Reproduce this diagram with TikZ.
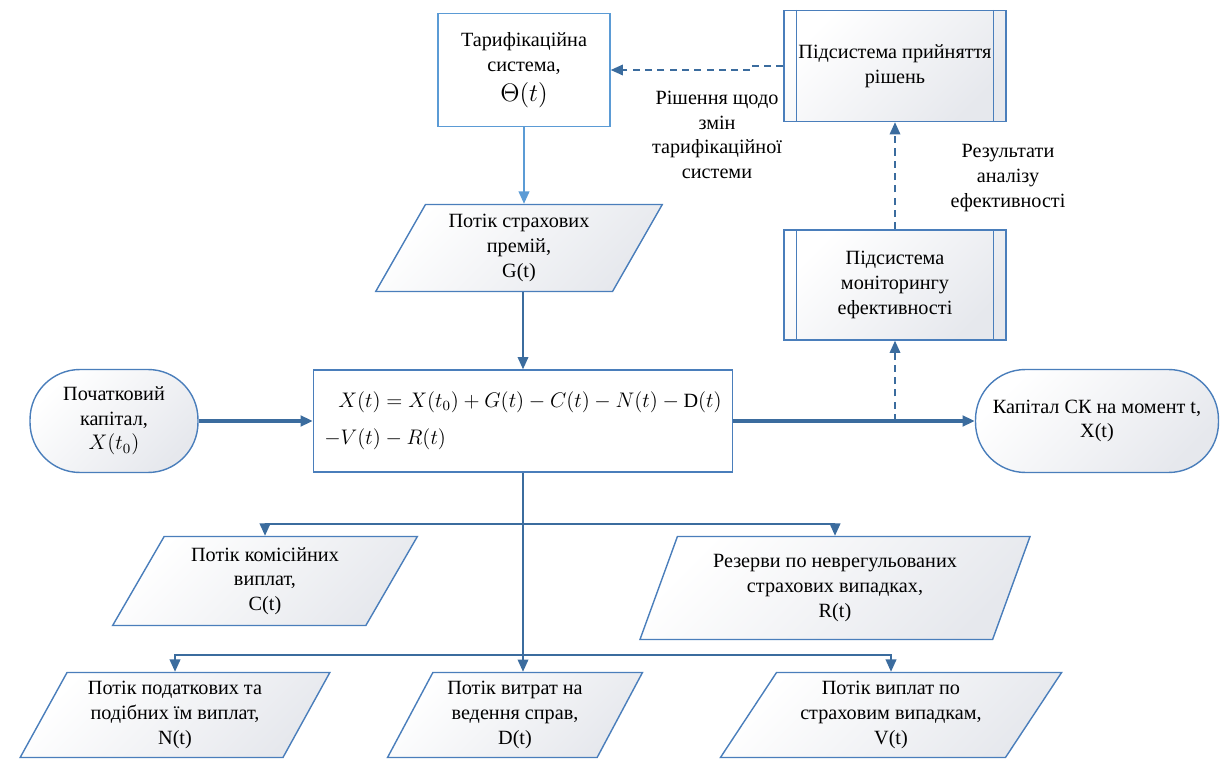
\documentclass[tikz,border=0pt]{standalone}
\usepackage{fontspec}
\setmainfont{Liberation Serif}
\usetikzlibrary{shapes.geometric,arrows.meta}
\definecolor{framec}{HTML}{4A7EBB}
\definecolor{arrowc}{HTML}{3B6C9E}
\definecolor{lightc}{HTML}{5B9BD5}
\definecolor{shadec}{HTML}{E6E8ED}
\begin{document}
\begin{tikzpicture}[x=0.02cm, y=-0.02cm, font=\fontsize{11.5}{14}\selectfont,
	box/.style={draw=framec, line width=0.8pt, align=center, inner sep=2pt},
	shaded/.style={shading=axis, top color=white, bottom color=shadec, shading angle=45},
	proc/.style={box, shaded, minimum width=4.44cm, minimum height=2.22cm},
	io/.style={box, shaded, trapezium, trapezium left angle=62, trapezium right angle=118, trapezium stretches=true, minimum height=1.74cm},
	term/.style={box, shaded, rounded corners=1cm, minimum height=2.06cm},
	lab/.style={align=center},
	flow/.style={draw=arrowc, line width=1.1pt, -{Triangle[length=7pt,width=6pt]}},
	mainflow/.style={flow, line width=1.8pt},
	dflow/.style={flow, dash pattern=on 4pt off 3pt},
	lflow/.style={flow, draw=lightc}]
			\useasboundingbox (0,0) rectangle (1227,763);
			\node[box, draw=lightc, fill=white, minimum width=3.44cm, minimum height=2.26cm] (tar) at (524,70) {Тарифікаційна\\система,\\[3pt]{\Large$\Theta(t)$}};
			\node[proc] (dec) at (895,66) {Підсистема прийняття\\рішень};
			\node[proc, minimum height=2.2cm] (mon) at (895,285) {Підсистема\\моніторингу\\ефективності};
			\draw[framec, line width=0.8pt] ([xshift=0.26cm]dec.north west) -- ([xshift=0.26cm]dec.south west);
			\draw[framec, line width=0.8pt] ([xshift=-0.26cm]dec.north east) -- ([xshift=-0.26cm]dec.south east);
			\draw[framec, line width=0.8pt] ([xshift=0.26cm]mon.north west) -- ([xshift=0.26cm]mon.south west);
			\draw[framec, line width=0.8pt] ([xshift=-0.26cm]mon.north east) -- ([xshift=-0.26cm]mon.south east);
			\node[io, minimum width=5.74cm] (prem) at (519,248) {Потік страхових\\премій,\\G(t)};
			\node[box, minimum width=8.38cm, minimum height=2.04cm] (form) at (523,421) {\hspace{0.28cm}$X(t)=X\bigl(t_0\bigr)+G(t)-C(t)-N(t)-\mathrm{D}(t)$\hspace{0.28cm}\\[7pt]$-V(t)-R(t)$\hfill\null};
			\node[term, minimum width=3.36cm] (cap0) at (114,421) {Початковий\\капітал,\\$X(t_0)$};
			\node[term, minimum width=4.86cm] (capt) at (1097,421) {Капітал СК на момент t,\\X(t)};
			\node[io, minimum width=6.1cm, minimum height=1.78cm] (cpay) at (265,581) {Потік комісійних\\виплат,\\C(t)};
			\node[io, minimum width=7.82cm, minimum height=2.06cm, trapezium left angle=68, trapezium right angle=112] (res) at (835,588) {Резерви по неврегульованих\\страхових випадках,\\R(t)};
			\node[io, minimum width=6.2cm, minimum height=1.7cm] (npay) at (175,715) {Потік податкових та\\подібних їм виплат,\\N(t)};
			\node[io, minimum width=5.1cm, minimum height=1.7cm] (dpay) at (515,715) {Потік витрат на\\ведення справ,\\D(t)};
			\node[io, minimum width=6.84cm, minimum height=1.7cm, trapezium left angle=58, trapezium right angle=122] (vpay) at (891,715) {Потік виплат по\\страховим випадкам,\\V(t)};
			\node[lab] (declab) at (717,135) {Рішення щодо\\змін\\тарифікаційної\\системи};
			\node[lab] (monlab) at (1008,178) {Результати\\аналізу\\ефективності};
			\coordinate (j1) at (523,524);
			\coordinate (j2) at (523,655);
			\draw[dflow] (dec.west) -- ++(-34,0) |- (tar.east);
			\draw[dflow] (mon.north) -- (dec.south);
			\draw[lflow] (tar.south) -- (tar.south |- prem.north);
			\draw[flow] (form.north |- prem.south) -- (form.north);
			\draw[mainflow] (cap0.east) -- (form.west);
			\draw[mainflow] (form.east) -- (capt.west);
			\draw[dflow] (mon.south |- form.east) -- (mon.south);
			\draw[flow] (form.south) -- (form.south |- dpay.north);
			\draw[flow] (j1) -| (cpay.north);
			\draw[flow] (j1) -| (res.north);
			\draw[flow] (j2) -| (npay.north);
			\draw[flow] (j2) -| (vpay.north);
		\end{tikzpicture}
\end{document}
